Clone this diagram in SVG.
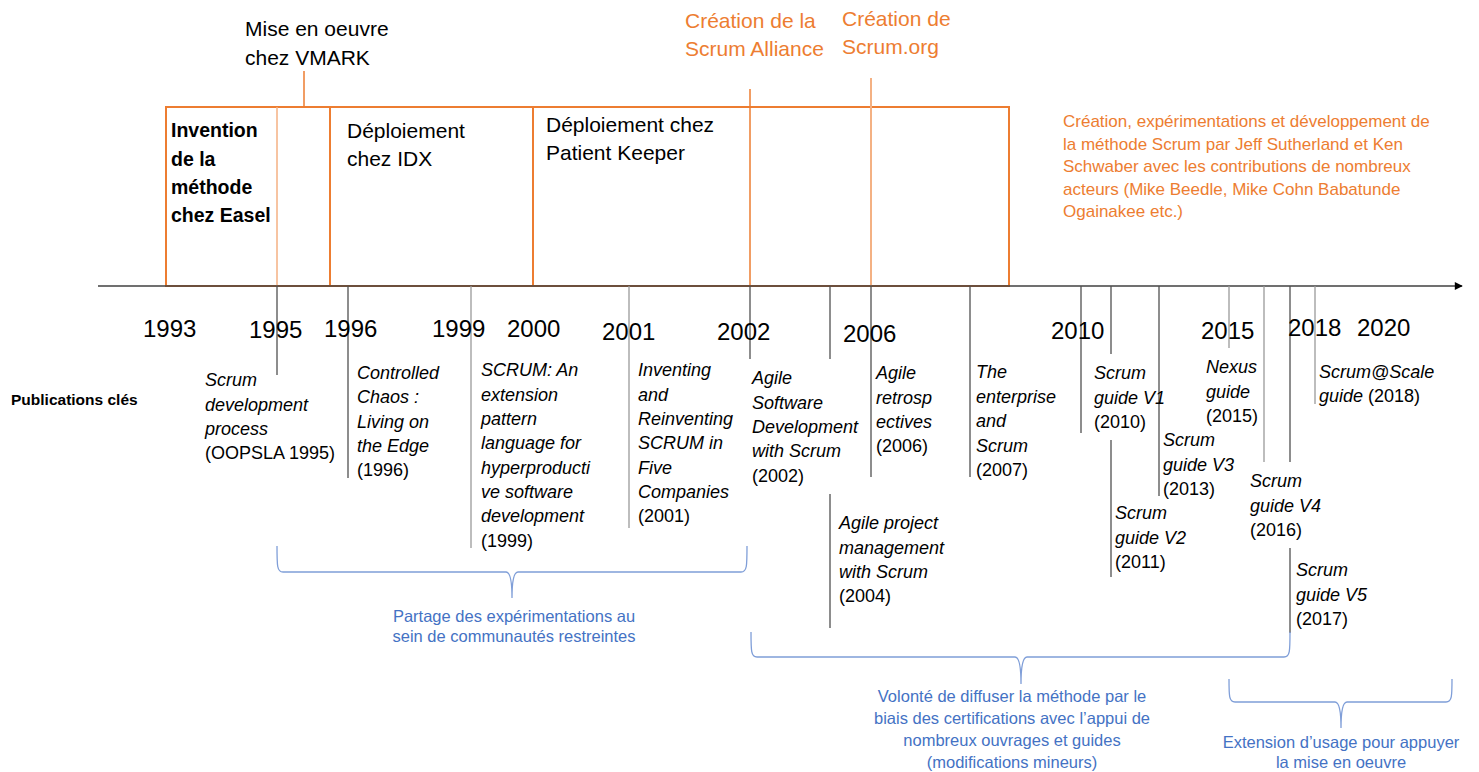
<svg xmlns="http://www.w3.org/2000/svg" width="1479" height="772" viewBox="0 0 1479 772">
<defs>
<style>
text{font-family:"Liberation Sans",Arial,sans-serif;fill:#000}
.yr{font-size:24px}
.pub{font-size:18px;font-style:italic}
.pub .n{font-style:normal}
.top{font-size:21px}
.org{fill:#ED7D31}
.blue{fill:#4472C4;font-size:16.5px;text-anchor:middle}
.box{fill:none;stroke:#ED7D31;stroke-width:2}
.tick{stroke:#505050;stroke-width:1.3;fill:none}
.tickl{stroke:#9a9a9a;stroke-width:1.3;fill:none}
.brace{fill:none;stroke:#7f9ed8;stroke-width:1.3}
</style>
<marker id="arr" viewBox="0 0 10 10" refX="9" refY="5" markerWidth="9" markerHeight="8" markerUnits="userSpaceOnUse" orient="auto"><path d="M0,0L10,5L0,10z" fill="#000"/></marker>
</defs>
<rect width="1479" height="772" fill="#fff"/>

<g id="boxes">
<g id="box-easel">
<rect class="box" x="166" y="107" width="164" height="179"/>
<line x1="277" y1="107" x2="277" y2="286" stroke="#F4B183" stroke-width="1.5"/>
<text font-weight="bold" font-size="19.5"><tspan x="171" y="137">Invention</tspan><tspan x="171" y="165.5">de la</tspan><tspan x="171" y="194">méthode</tspan><tspan x="171" y="222">chez Easel</tspan></text>
</g>
<g id="box-idx">
<rect class="box" x="330" y="107" width="203" height="179"/>
<text class="top"><tspan x="347" y="137.5">Déploiement</tspan><tspan x="347" y="165.5">chez IDX</tspan></text>
</g>
<g id="box-pk">
<rect class="box" x="533" y="107" width="476" height="179"/>
<text class="top"><tspan x="546" y="132">Déploiement chez</tspan><tspan x="546" y="160">Patient Keeper</tspan></text>
</g>
</g>

<g id="events">
<g id="vmark">
<line x1="304" y1="71" x2="304" y2="107" stroke="#ED7D31" stroke-width="1.5"/>
<text class="top"><tspan x="245" y="36">Mise en oeuvre</tspan><tspan x="245" y="65">chez VMARK</tspan></text>
</g>
<g id="scrum-alliance">
<line x1="750" y1="89" x2="750" y2="286" stroke="#ED7D31" stroke-width="1.5"/>
<text class="top org"><tspan x="685" y="27.5">Création de la</tspan><tspan x="685" y="56">Scrum Alliance</tspan></text>
</g>
<g id="scrum-org">
<line x1="871" y1="78" x2="871" y2="286" stroke="#F4B183" stroke-width="2"/>
<text class="top org"><tspan x="842" y="26">Création de</tspan><tspan x="842" y="54">Scrum.org</tspan></text>
</g>
<g id="summary">
<text class="org" font-size="17"><tspan x="1063" y="127">Création, expérimentations et développement de</tspan><tspan x="1063" y="149.5">la méthode Scrum par Jeff Sutherland et Ken</tspan><tspan x="1063" y="172">Schwaber avec les contributions de nombreux</tspan><tspan x="1063" y="194.5">acteurs (Mike Beedle, Mike Cohn Babatunde</tspan><tspan x="1063" y="217">Ogainakee etc.)</tspan></text>
</g>
</g>

<g id="connectors">
<line x1="98" y1="286" x2="1462" y2="286" stroke="#404040" stroke-width="1.3" marker-end="url(#arr)"/>
<line class="tick" x1="277" y1="286" x2="277" y2="375"/>
<line class="tick" x1="348" y1="286" x2="348" y2="478"/>
<line class="tickl" x1="471" y1="286" x2="471" y2="548"/>
<line class="tickl" x1="629" y1="286" x2="629" y2="528"/>
<line class="tick" x1="750" y1="286" x2="750" y2="359"/>
<line class="tick" x1="830" y1="286" x2="830" y2="359"/>
<line class="tick" x1="830" y1="494" x2="830" y2="628"/>
<line class="tick" x1="871" y1="286" x2="871" y2="477"/>
<line class="tick" x1="970" y1="286" x2="970" y2="477"/>
<line class="tick" x1="1081" y1="286" x2="1081" y2="433"/>
<line class="tick" x1="1111" y1="286" x2="1111" y2="354"/>
<line class="tick" x1="1111" y1="440" x2="1111" y2="577"/>
<line class="tick" x1="1159" y1="286" x2="1159" y2="496"/>
<line class="tickl" x1="1229" y1="286" x2="1229" y2="348"/>
<line class="tickl" x1="1264" y1="286" x2="1264" y2="462"/>
<line class="tick" x1="1290" y1="286" x2="1290" y2="462"/>
<line class="tick" x1="1290" y1="548" x2="1290" y2="633"/>
<line class="tickl" x1="1315" y1="286" x2="1315" y2="404"/>
<path class="brace" d="M277,546 C277,566 277,572 283,572 L506,572 Q512,572 512,598 Q512,572 518,572 L741,572 C747,572 747,566 747,546"/>
<path class="brace" d="M751,632 C751,651 751,657 757,657 L1015,657 Q1021,657 1021,684 Q1021,657 1027,657 L1284,657 C1290,657 1290,651 1290,632"/>
<path class="brace" d="M1229,679 C1229,696 1229,702 1235,702 L1335,702 Q1341,702 1341,728 Q1341,702 1347,702 L1446,702 C1452,702 1452,696 1452,679"/>
</g>

<g id="years">
<text class="yr" x="143" y="337">1993</text>
<text class="yr" x="249" y="338">1995</text>
<text class="yr" x="324" y="337">1996</text>
<text class="yr" x="432" y="337">1999</text>
<text class="yr" x="507" y="337">2000</text>
<text class="yr" x="602" y="340">2001</text>
<text class="yr" x="717" y="340">2002</text>
<text class="yr" x="843" y="342">2006</text>
<text class="yr" x="1051" y="339">2010</text>
<text class="yr" x="1201" y="339">2015</text>
<text class="yr" x="1288" y="336">2018</text>
<text class="yr" x="1357" y="336">2020</text>
</g>

<g id="publications">
<text id="pub-label" x="11" y="405" font-weight="bold" font-size="15.5">Publications clés</text>
<g id="pub-1995"><text class="pub"><tspan x="205" y="386">Scrum</tspan><tspan x="205" y="410.5">development</tspan><tspan x="205" y="435">process</tspan><tspan class="n" x="205" y="459">(OOPSLA 1995)</tspan></text></g>
<g id="pub-1996"><text class="pub"><tspan x="357" y="379">Controlled</tspan><tspan x="357" y="403">Chaos :</tspan><tspan x="357" y="427.5">Living on</tspan><tspan x="357" y="451.5">the Edge</tspan><tspan class="n" x="357" y="476">(1996)</tspan></text></g>
<g id="pub-1999"><text class="pub"><tspan x="481" y="376">SCRUM: An</tspan><tspan x="481" y="400.5">extension</tspan><tspan x="481" y="425">pattern</tspan><tspan x="481" y="449">language for</tspan><tspan x="481" y="473.5">hyperproducti</tspan><tspan x="481" y="498">ve software</tspan><tspan x="481" y="522">development</tspan><tspan class="n" x="481" y="546.5">(1999)</tspan></text></g>
<g id="pub-2001"><text class="pub"><tspan x="638" y="376">Inventing</tspan><tspan x="638" y="400.5">and</tspan><tspan x="638" y="425">Reinventing</tspan><tspan x="638" y="449">SCRUM in</tspan><tspan x="638" y="473.5">Five</tspan><tspan x="638" y="498">Companies</tspan><tspan class="n" x="638" y="522">(2001)</tspan></text></g>
<g id="pub-2002"><text class="pub"><tspan x="752" y="384">Agile</tspan><tspan x="752" y="408.5">Software</tspan><tspan x="752" y="433">Development</tspan><tspan x="752" y="457">with Scrum</tspan><tspan class="n" x="752" y="481.5">(2002)</tspan></text></g>
<g id="pub-2004"><text class="pub"><tspan x="839" y="529">Agile project</tspan><tspan x="839" y="553.5">management</tspan><tspan x="839" y="578">with Scrum</tspan><tspan class="n" x="839" y="602">(2004)</tspan></text></g>
<g id="pub-2006"><text class="pub"><tspan x="876" y="379">Agile</tspan><tspan x="876" y="403.5">retrosp</tspan><tspan x="876" y="428">ectives</tspan><tspan class="n" x="876" y="452">(2006)</tspan></text></g>
<g id="pub-2007"><text class="pub"><tspan x="976" y="378">The</tspan><tspan x="976" y="402.5">enterprise</tspan><tspan x="976" y="427">and</tspan><tspan x="976" y="451.5">Scrum</tspan><tspan class="n" x="976" y="476">(2007)</tspan></text></g>
<g id="pub-v1"><text class="pub"><tspan x="1094" y="379">Scrum</tspan><tspan x="1094" y="403.5">guide V1</tspan><tspan class="n" x="1094" y="428">(2010)</tspan></text></g>
<g id="pub-v2"><text class="pub"><tspan x="1115" y="519">Scrum</tspan><tspan x="1115" y="543.5">guide V2</tspan><tspan class="n" x="1115" y="568">(2011)</tspan></text></g>
<g id="pub-v3"><text class="pub"><tspan x="1163" y="446">Scrum</tspan><tspan x="1163" y="470.5">guide V3</tspan><tspan class="n" x="1163" y="495">(2013)</tspan></text></g>
<g id="pub-nexus"><text class="pub"><tspan x="1206" y="373">Nexus</tspan><tspan x="1206" y="397.5">guide</tspan><tspan class="n" x="1206" y="421.5">(2015)</tspan></text></g>
<g id="pub-v4"><text class="pub"><tspan x="1250" y="487">Scrum</tspan><tspan x="1250" y="511.5">guide V4</tspan><tspan class="n" x="1250" y="536">(2016)</tspan></text></g>
<g id="pub-v5"><text class="pub"><tspan x="1296" y="576">Scrum</tspan><tspan x="1296" y="600.5">guide V5</tspan><tspan class="n" x="1296" y="624.5">(2017)</tspan></text></g>
<g id="pub-sas"><text class="pub"><tspan x="1319" y="378">Scrum@Scale</tspan><tspan x="1319" y="402">guide <tspan class="n">(2018)</tspan></tspan></text></g>
</g>

<g id="phases">
<g id="phase-1"><text class="blue"><tspan x="514" y="621.5">Partage des expérimentations au</tspan><tspan x="514" y="642">sein de communautés restreintes</tspan></text></g>
<g id="phase-2"><text class="blue"><tspan x="1012" y="701.5">Volonté de diffuser la méthode par le</tspan><tspan x="1012" y="723.5">biais des certifications avec l’appui de</tspan><tspan x="1012" y="746">nombreux ouvrages et guides</tspan><tspan x="1012" y="768">(modifications mineurs)</tspan></text></g>
<g id="phase-3"><text class="blue"><tspan x="1341" y="747.5">Extension d’usage pour appuyer</tspan><tspan x="1341" y="768">la mise en oeuvre</tspan></text></g>
</g>
</svg>
